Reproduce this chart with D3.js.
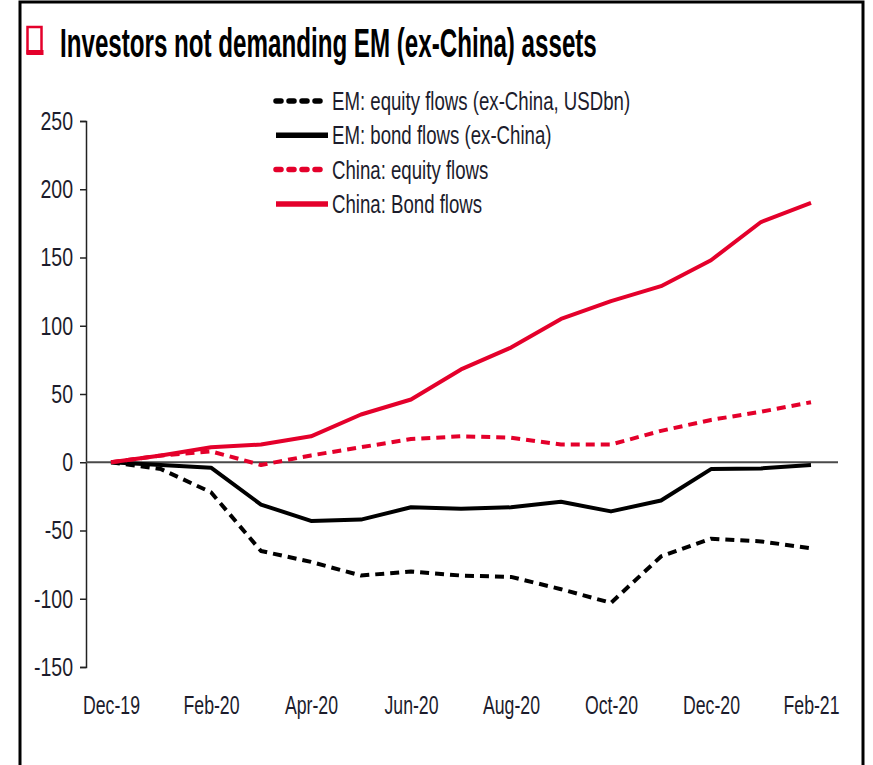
<!DOCTYPE html>
<html>
<head>
<meta charset="utf-8">
<script src="https://cdn.jsdelivr.net/npm/d3@7"></script>
<style>
  html, body { margin: 0; padding: 0; background: #fff; }
  svg { display: block; }
</style>
</head>
<body>
<svg id="chart" width="873" height="765"></svg>
<script>
// Monthly cumulative flows, USD bn
const months = ["Dec-19","Jan-20","Feb-20","Mar-20","Apr-20","May-20","Jun-20","Jul-20",
                "Aug-20","Sep-20","Oct-20","Nov-20","Dec-20","Jan-21","Feb-21"];
const emEquity   = [0, -5, -22, -65, -73, -83, -80, -83, -84, -93, -103, -69, -56, -58, -63];
const emBond     = [0, -2, -4, -31, -43, -42, -33, -34, -33, -29, -36, -28, -5, -4.5, -2];
const chinaEquity= [0, 5, 8, -2, 5, 11, 17, 19, 18, 13, 13, 23, 31, 37, 44];
const chinaBond  = [0, 5, 11, 13, 19, 35, 46, 68, 84, 105, 118, 129, 148, 176, 190];
const xTickLabels = ["Dec-19","Feb-20","Apr-20","Jun-20","Aug-20","Oct-20","Dec-20","Feb-21"];
const yTicks = [-150, -100, -50, 0, 50, 100, 150, 200, 250];
const titleText = "Investors not demanding EM (ex-China) assets";

const series = [
  { name: "EM: equity flows (ex-China, USDbn)", values: emEquity,    color: "#000000", dashed: true  },
  { name: "EM: bond flows (ex-China)",          values: emBond,      color: "#000000", dashed: false },
  { name: "China: equity flows",                values: chinaEquity, color: "#e4002b", dashed: true  },
  { name: "China: Bond flows",                  values: chinaBond,   color: "#e4002b", dashed: false }
];

const svg = d3.select("#chart");
const font = "'Liberation Sans', Arial, sans-serif";
const textColor = "#1c1c2c";

// squeeze text horizontally to mimic a tall narrow face
function narrowText(sel, k) {
  sel.each(function () {
    const w = this.getComputedTextLength();
    d3.select(this).attr("textLength", w * k).attr("lengthAdjust", "spacingAndGlyphs");
  });
}

// frame
svg.append("path")
  .attr("d", "M20,768 L20,2 L863,2 L863,768")
  .attr("fill", "none").attr("stroke", "#000").attr("stroke-width", 3);

// title marker
svg.append("rect").attr("x", 27.5).attr("y", 27).attr("width", 14).attr("height", 26)
  .attr("fill", "#fff").attr("stroke", "#e4002b").attr("stroke-width", 2.5);
svg.append("rect").attr("x", 26.5).attr("y", 50).attr("width", 17).attr("height", 5).attr("fill", "#e4002b");

// title, condensed horizontally to its measured width
const title = svg.append("text")
  .attr("font-family", font).attr("font-weight", "bold").attr("font-size", 40)
  .attr("fill", "#000").text(titleText);
const titleW = title.node().getComputedTextLength();
title.attr("transform", `translate(60,57) scale(${537 / titleW},1)`);

const x = d3.scalePoint().domain(months).range([111, 811]);
const y = d3.scaleLinear().domain([-150, 250]).range([667, 121]);

// y axis
const yAxis = svg.append("g").attr("transform", "translate(86,0)")
  .call(d3.axisLeft(y).tickValues(yTicks).tickSize(6).tickPadding(7).tickFormat(d => String(d)));
yAxis.select(".domain").attr("stroke", "#222").attr("stroke-width", 1.5);
yAxis.selectAll(".tick line").attr("stroke", "#222").attr("stroke-width", 1.5);
yAxis.selectAll("text").attr("font-family", font).attr("font-size", 26).attr("fill", textColor)
  .call(narrowText, 0.75);

// x labels
const xAxis = svg.append("g").attr("transform", "translate(0,688)")
  .call(d3.axisBottom(x).tickValues(xTickLabels).tickSize(0).tickPadding(8));
xAxis.select(".domain").remove();
xAxis.selectAll("text").attr("font-family", font).attr("font-size", 26).attr("fill", textColor)
  .call(narrowText, 0.68);

// zero line
svg.append("line").attr("x1", 86).attr("x2", 838).attr("y1", y(0)).attr("y2", y(0))
  .attr("stroke", "#4a4a4a").attr("stroke-width", 2);

const line = d3.line().x((d, i) => x(months[i])).y(d => y(d));

svg.append("g").selectAll("path").data(series).join("path")
  .attr("d", d => line(d.values))
  .attr("fill", "none")
  .attr("stroke", d => d.color)
  .attr("stroke-width", 4)
  .attr("stroke-linejoin", "round")
  .attr("stroke-dasharray", d => d.dashed ? "9,6" : null);

// legend
const legend = svg.append("g");
const rows = legend.selectAll("g").data(series).join("g")
  .attr("transform", (d, i) => `translate(0,${101 + i * 34.3})`);
rows.append("line").attr("x1", 276).attr("x2", 328).attr("y1", 0).attr("y2", 0)
  .attr("stroke", d => d.color).attr("stroke-width", 5.5)
  .attr("stroke-linecap", d => d.dashed ? "round" : "butt")
  .attr("stroke-dasharray", d => d.dashed ? "5,8" : null);
rows.append("text").attr("x", 332).attr("y", 0).attr("dy", "0.36em")
  .attr("font-family", font).attr("font-size", 25).attr("fill", textColor)
  .text(d => d.name)
  .call(narrowText, 0.745);
</script>
</body>
</html>
